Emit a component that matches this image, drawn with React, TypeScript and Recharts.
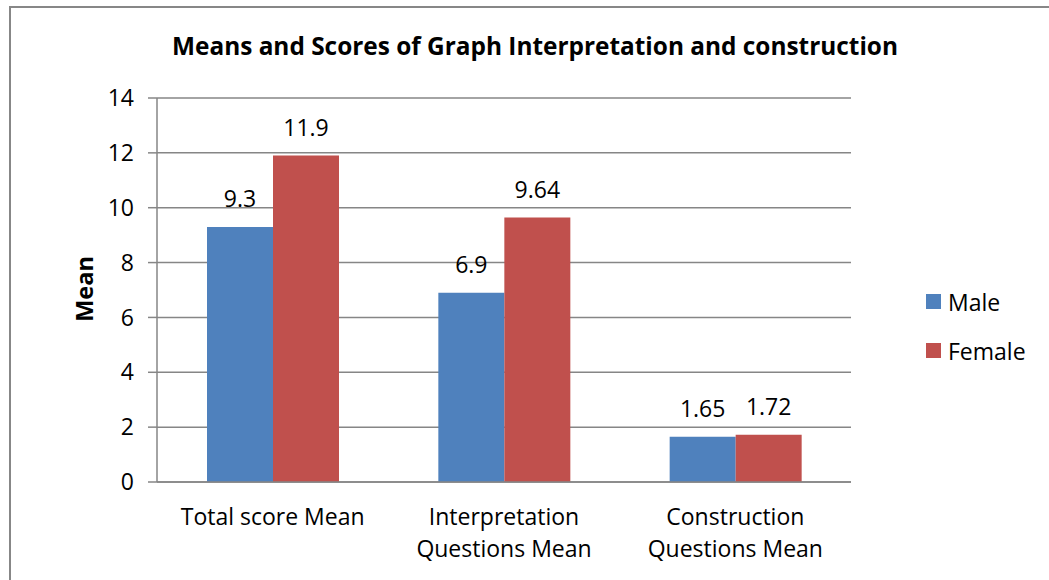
import { BarChart, Bar, XAxis, YAxis, CartesianGrid, Legend, LabelList } from "recharts";

const categories = ["Total score Mean", "Interpretation\nQuestions Mean", "Construction\nQuestions Mean"];
const maleMeans = [9.3, 6.9, 1.65];
const femaleMeans = [11.9, 9.64, 1.72];
const yTicks = [0, 2, 4, 6, 8, 10, 12, 14];
const seriesOrder = ["Male", "Female"];

const data = categories.map((name, i) => ({
  name,
  male: maleMeans[i],
  female: femaleMeans[i],
}));

const FONT = "'Open Sans', 'Noto Sans', sans-serif";
const GRID = "#868686";
const BLUE = "#4F81BD";
const RED = "#C0504D";

const CategoryTick = (props: any) => {
  const { x, y, payload } = props;
  const lines = String(payload.value).split("\n");
  return (
    <text x={x} y={y} textAnchor="middle" fill="#000" fontSize={23} fontFamily={FONT}>
      {lines.map((line, i) => (
        <tspan key={i} x={x} dy={i === 0 ? 43 : 32}>
          {line}
        </tspan>
      ))}
    </text>
  );
};

const renderLegend = (props: any) => {
  const items = [...(props.payload || [])].sort(
    (a: any, b: any) => seriesOrder.indexOf(a.value) - seriesOrder.indexOf(b.value)
  );
  return (
    <div style={{ fontFamily: FONT }}>
      {items.map((entry: any) => (
        <div key={entry.value} style={{ display: "flex", alignItems: "center", height: 49 }}>
          <span style={{ width: 15, height: 15, background: entry.color, marginRight: 7, display: "inline-block" }} />
          <span style={{ fontSize: 23, color: "#000" }}>{entry.value}</span>
        </div>
      ))}
    </div>
  );
};

export default function App() {
  return (
    <div style={{ position: "fixed", left: 0, top: 0, width: 1049, height: 580, overflow: "hidden", background: "#fff" }}>
      <div
        style={{
          position: "absolute",
          left: 9,
          top: 6,
          width: 1200,
          height: 800,
          border: "2px solid #878787",
        }}
      />
      <div
        style={{
          position: "absolute",
          left: 535,
          top: 31,
          transform: "translateX(-50%)",
          whiteSpace: "nowrap",
          fontFamily: FONT,
          fontWeight: 700,
          fontSize: 24.4,
          lineHeight: "30px",
        }}
      >
        Means and Scores of Graph Interpretation and construction
      </div>
      <div
        style={{
          position: "absolute",
          left: 84,
          top: 289,
          transform: "translate(-50%, -50%) rotate(-90deg)",
          fontFamily: FONT,
          fontWeight: 700,
          fontSize: 23.5,
          lineHeight: "30px",
        }}
      >
        Mean
      </div>
      <div style={{ position: "absolute", left: 0, top: 0 }}>
        <BarChart
          width={1049}
          height={580}
          data={data}
          margin={{ top: 98, right: 198, bottom: 0, left: 0 }}
          barCategoryGap={50}
          barGap={0}
        >
          <CartesianGrid vertical={false} stroke={GRID} strokeWidth={1.5} />
          <XAxis
            dataKey="name"
            height={98}
            axisLine={{ stroke: GRID, strokeWidth: 1.5 }}
            tickLine={false}
            tickSize={0}
            tickMargin={0}
            interval={0}
            tick={<CategoryTick />}
          />
          <YAxis
            width={157}
            domain={[0, 14]}
            ticks={yTicks}
            interval={0}
            axisLine={{ stroke: GRID, strokeWidth: 1.5 }}
            tickLine={{ stroke: GRID, strokeWidth: 1.5 }}
            tickSize={9}
            tickMargin={14}
            tick={{ fill: "#000", fontSize: 23, fontFamily: FONT }}
          />
          <Legend
            layout="vertical"
            align="center"
            verticalAlign="middle"
            wrapperStyle={{ left: 926, top: 277, width: 120 }}
            content={renderLegend}
          />
          <Bar dataKey="male" name="Male" fill={BLUE} isAnimationActive={false}>
            <LabelList dataKey="male" position="top" offset={20} fill="#000" fontSize={23} fontFamily={FONT} />
          </Bar>
          <Bar dataKey="female" name="Female" fill={RED} isAnimationActive={false}>
            <LabelList dataKey="female" position="top" offset={20} fill="#000" fontSize={23} fontFamily={FONT} />
          </Bar>
        </BarChart>
      </div>
    </div>
  );
}
